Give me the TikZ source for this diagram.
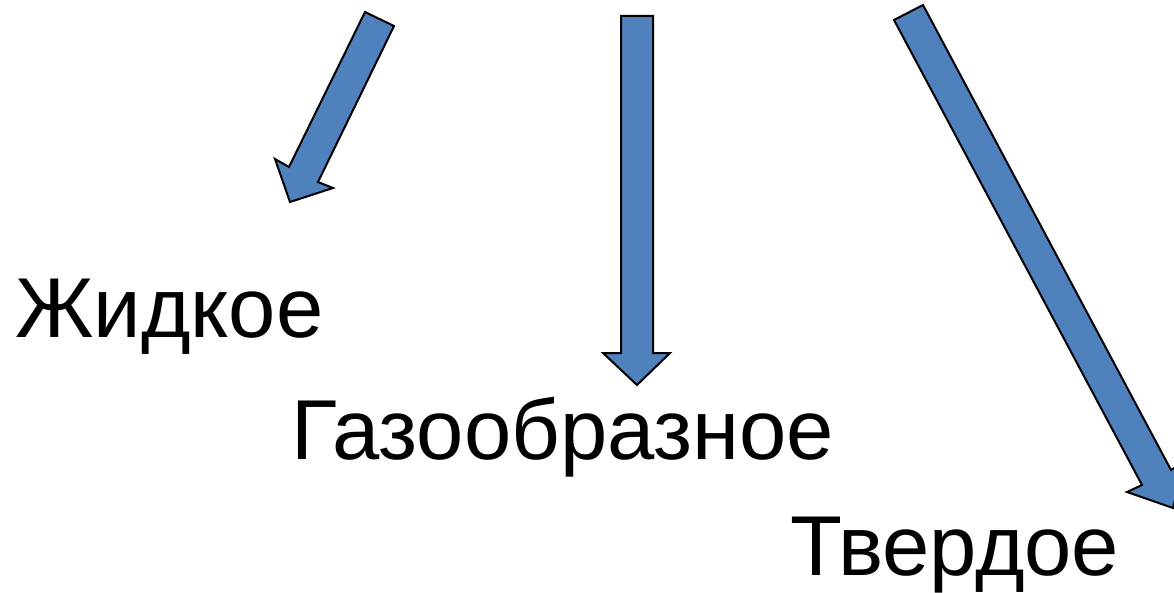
\documentclass[tikz,border=0pt]{standalone}
\usepackage{fontspec}
\setmainfont{Liberation Sans}
\definecolor{arrowblue}{HTML}{4F81BD}
\tikzset{
  blockarrow/.style={fill=arrowblue, draw=black, line width=2pt, line join=miter},
  statename/.style={inner sep=0pt, anchor=base west, font=\fontsize{85}{100}\selectfont}
}

\begin{document}
\begin{tikzpicture}[x=1pt,y=-1pt]
 \clip (0,0) rectangle (1174,593);
 % left arrow
 \draw[blockarrow] (365,12)--(394,26)--(318,182)--(333,188)--(290,202)--(275,159)--(289,167)--cycle;
 % middle arrow
 \draw[blockarrow] (621,16)--(653,16)--(653,353)--(670,353)--(637,385)--(603,353)--(621,353)--cycle;
 % right arrow
 \draw[blockarrow] (894,20)--(923,5)--(1171,470)--(1185,461)--(1173,508)--(1127,492)--(1142,485)--cycle;
 \node[statename] (liquid) at (15,337) {Жидкое};
 \node[statename] (gas) at (291,459) {Газообразное};
 \node[statename] (solid) at (790,575) {Твердое};
\end{tikzpicture}
\end{document}
